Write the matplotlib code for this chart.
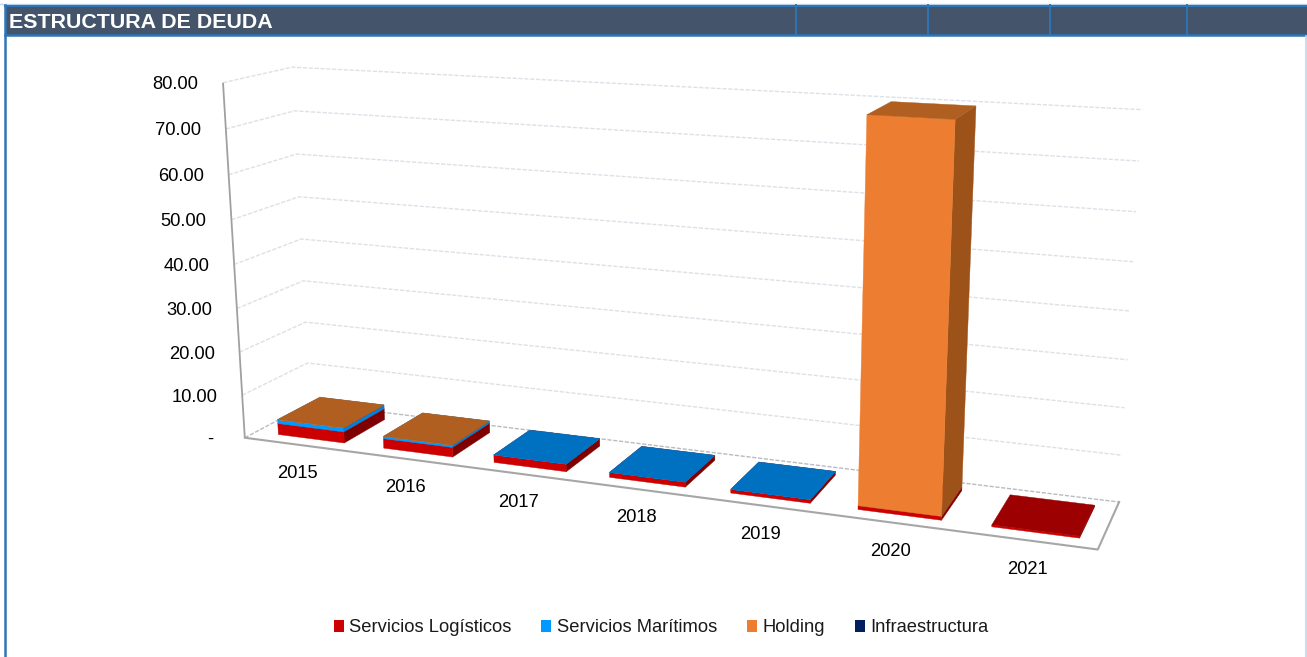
import numpy as np
import matplotlib
matplotlib.use("Agg")
import matplotlib.pyplot as plt
from matplotlib.patches import Polygon, Patch, Rectangle

# ---- data ----
years = ["2015", "2016", "2017", "2018", "2019", "2020", "2021"]
logisticos = [2.6, 2.2, 1.7, 1.1, 0.8, 0.8, 0.4]
maritimos = [0.9, 0.5, 0.03, 0.03, 0.03, 0.0, 0.0]
holding = [0.05, 0.03, 0.0, 0.0, 0.0, 79.0, 0.0]
infra = [0.0, 0.0, 0.0, 0.0, 0.0, 0.0, 0.0]
series_names = ["Servicios Logísticos", "Servicios Marítimos", "Holding", "Infraestructura"]
y_ticks = [0, 10, 20, 30, 40, 50, 60, 70, 80]
y_labels = ["- ", "10.00", "20.00", "30.00", "40.00", "50.00", "60.00", "70.00", "80.00"]
title = "ESTRUCTURA DE DEUDA"

# ---- style: (legend/front, side, top) ----
colors = [("#CC0000", "#800000", "#9C0000"),
          ("#0099FF", "#0080D8", "#0070C0"),
          ("#ED7D31", "#9C5219", "#B05F20"),
          ("#002060", "#001540", "#001850")]
FONT = ["Liberation Sans", "DejaVu Sans"]
GAP, BAR_W, Y0, Y1 = 0.215, 0.63, 0.17, 0.83

# ---- camera calibration of the chart box: slot, depth, value -> pixel ----
anchors = [(0, 0, 0, 247, 438), (7, 0, 0, 1100, 548), (7, 1, 0, 1120, 500), (0, 1, 0, 310, 404),
           (0, 0, 80, 223, 82), (0, 1, 80, 292, 66), (7, 1, 80, 1142, 111), (7, 1, 70, 1139, 162),
           (0, 1, 10, 308, 363), (0, 0, 10, 244, 395),
           (GAP, Y0, 0, 276, 434), (1 + GAP, Y0, 0, 383, 449), (2 + GAP, Y0, 0, 493, 463),
           (3 + GAP, Y0, 0, 609, 478), (4 + GAP, Y0, 0, 730, 493), (5 + GAP, Y0, 0, 858, 510),
           (6 + GAP, Y0, 0, 990, 527)]
A = []
for X, Y, Z, u, v in anchors:
    p = [X, Y, Z, 1]
    A.append(p + [0, 0, 0, 0] + [-u * c for c in p])
    A.append([0, 0, 0, 0] + p + [-v * c for c in p])
A = np.array(A, float)
s2 = np.abs(A).max(axis=0).clip(1e-9)
_, _, Vt = np.linalg.svd(A / s2)
P = (Vt[-1] / s2).reshape(3, 4)


def proj(X, Y, Z):
    h = P @ np.array([X, Y, Z, 1.0])
    return h[0] / h[2], h[1] / h[2]


fig = plt.figure(figsize=(13.07, 6.57), dpi=100, facecolor="white")
ax = fig.add_axes([0, 0, 1, 1])
ax.set_xlim(0, 1307)
ax.set_ylim(657, 0)
ax.axis("off")

# ---- frame and header band ----
ax.add_patch(Rectangle((5, 5), 1302, 30, fc="#44546A", ec="none", zorder=1))
ax.plot([0, 1307], [4, 4], color="#BDD7EE", lw=1, zorder=2)
ax.plot([5, 1307], [5.5, 5.5], color="#2E75B6", lw=1.5, zorder=2)
ax.plot([5, 1307], [35, 35], color="#2E75B6", lw=1.8, zorder=2)
ax.plot([4.8, 4.8], [5, 657], color="#2E75B6", lw=1.8, zorder=2)
ax.plot([1306.3, 1306.3], [36, 657], color="#BDD7EE", lw=1.2, zorder=2)
for xv in (796, 928, 1050, 1187):
    ax.plot([xv, xv], [5, 35], color="#2E75B6", lw=1.4, zorder=2)
ax.text(9, 23, title, color="white", family=FONT, fontweight="bold", fontsize=15.4, va="center", ha="left", zorder=3)

# ---- gridlines ----
for z in y_ticks:
    pts = [proj(0, 0, z), proj(0, 1, z), proj(7, 1, z)]
    ax.plot(*zip(*pts), color="#DDE0E6" if z else "#B8BBC2", lw=1.0, ls=(0, (3, 1.2)), zorder=3)

# ---- axis lines ----
ax.plot(*zip(proj(0, 0, 80), proj(0, 0, 0)), color="#A0A0A0", lw=1.3, zorder=4, solid_capstyle="butt")
ax.plot(*zip(proj(0, 0, 0), proj(7, 0, 0), proj(7, 1, 0)), color="#A6A6A6", lw=1.5, zorder=4)

# ---- stacked 3D columns ----
stack = [logisticos, maritimos, holding, infra]
for i in range(len(years)):
    x0, x1 = i + GAP, i + GAP + BAR_W
    base = 0.0
    for s, vals in enumerate(stack):
        v = vals[i]
        if v <= 0:
            continue
        top = base + v
        front, side, cap = colors[s]
        faces = [([(x1, Y0, base), (x1, Y1, base), (x1, Y1, top), (x1, Y0, top)], side),
                 ([(x0, Y0, base), (x1, Y0, base), (x1, Y0, top), (x0, Y0, top)], front),
                 ([(x0, Y0, top), (x1, Y0, top), (x1, Y1, top), (x0, Y1, top)], cap)]
        for corners, col in faces:
            ax.add_patch(Polygon([proj(*c) for c in corners], closed=True, fc=col, ec=col, lw=0.3, zorder=5 + i * 0.1 + s * 0.01))
        base = top

# ---- tick labels ----
for z, lab in zip(y_ticks, y_labels):
    px, py = proj(0, 0, z)
    ax.text(px - 25, py + 2, lab, family=FONT, fontsize=13.2, ha="right", va="center", color="#000000", zorder=6)
for i, lab in enumerate(years):
    px, py = proj(i + 0.5, 0, 0)
    ax.text(px + 1, py + 29, lab, family=FONT, fontsize=13.2, ha="center", va="center", color="#000000", zorder=6)

# ---- legend ----
handles = [Patch(fc=colors[k][0], ec="none", label=series_names[k]) for k in range(4)]
ax.legend(handles=handles, ncols=4, frameon=False, loc="center", bbox_to_anchor=(661 / 1307, 1 - 628 / 657),
          bbox_transform=fig.transFigure, prop={"family": FONT, "size": 13.2}, handlelength=0.55, handleheight=0.6,
          handletextpad=0.28, columnspacing=1.65, labelcolor="#1A1A1A")

fig.savefig("out.png", dpi=100)
